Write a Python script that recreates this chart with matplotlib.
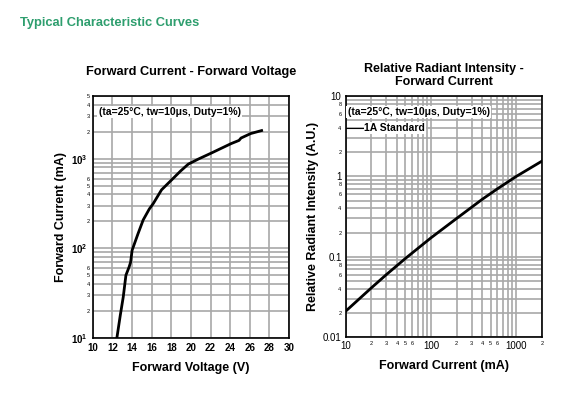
import numpy as np
import matplotlib.pyplot as plt
from matplotlib.ticker import FixedLocator, FuncFormatter

plt.rcParams['font.family'] = ['Liberation Sans', 'DejaVu Sans']
plt.rcParams['mathtext.fontset'] = 'custom'
plt.rcParams['mathtext.rm'] = 'Liberation Sans'
plt.rcParams['mathtext.bf'] = 'Liberation Sans:bold'

# Forward current vs forward voltage
fv_voltage = [12.45, 12.8, 13.1, 13.37, 13.7, 13.85, 14.0, 14.6, 15.13, 15.75, 16.16, 17.0, 18.03,
              18.95, 19.73, 20.75, 22.1, 24.1, 24.9, 25.1, 26.1, 27.2]
fv_current = [10, 18, 28.7, 50, 62, 70, 95, 145, 207, 274, 316, 449, 580,
              730, 870, 990, 1159, 1475, 1600, 1700, 1910, 2060]

# Relative radiant intensity vs forward current
ri_current = [10, 20, 30, 50, 100, 200, 400, 600, 1000, 2000]
ri_intensity = [0.021, 0.041, 0.060, 0.095, 0.172, 0.30, 0.52, 0.70, 1.0, 1.55]

grid_col = '#a8a8a8'


def mantissa(v):
    return int(round(v / 10 ** np.floor(np.log10(v))))


fig = plt.figure(figsize=(5.84, 3.97), dpi=100)
fig.text(0.034, 0.935, 'Typical Characteristic Curves', color='#2e9e6e',
         fontsize=9.3, fontweight='bold')

# ---- left chart
ax1 = fig.add_axes([0.159, 0.149, 0.336, 0.609])
ax1.plot(fv_voltage, fv_current, color='black', lw=2.0, zorder=3)
ax1.set_yscale('log')
ax1.set_xlim(10, 30)
ax1.set_ylim(10, 5000)
ax1.set_xticks(range(10, 31, 2))
ax1.set_xticklabels([str(v) for v in range(10, 31, 2)], fontsize=7, fontweight='bold')
ax1.yaxis.set_major_locator(FixedLocator([10, 100, 1000]))
ax1.yaxis.set_major_formatter(FuncFormatter(lambda v, p: r'$\mathbf{10^{%d}}$' % round(np.log10(v))))
minors = [m * 10 ** d for d in (1, 2, 3) for m in range(2, 10) if m * 10 ** d <= 5000]
ax1.yaxis.set_minor_locator(FixedLocator(minors))
ax1.yaxis.set_minor_formatter(FuncFormatter(lambda v, p: str(mantissa(v)) if mantissa(v) <= 6 else ''))
ax1.tick_params(axis='y', which='major', labelsize=7, length=0, pad=4)
ax1.tick_params(axis='y', which='minor', labelsize=4, length=0, pad=2)
ax1.tick_params(axis='x', length=0, pad=4)
ax1.grid(True, which='both', color=grid_col, lw=1.2)
ax1.set_axisbelow(True)
ax1.set_title('Forward Current - Forward Voltage', fontsize=9.2, fontweight='bold', pad=15)
ax1.set_xlabel('Forward Voltage (V)', fontsize=9, fontweight='bold', labelpad=6)
ax1.set_ylabel('Forward Current (mA)', fontsize=9, fontweight='bold', labelpad=3)
ax1.text(0.03, 0.955, '(ta=25°C, tw=10μs, Duty=1%)', transform=ax1.transAxes,
         fontsize=7.5, fontweight='bold', va='top', ha='left',
         bbox=dict(facecolor='white', edgecolor='none', pad=1))
for s in ax1.spines.values():
    s.set_linewidth(1.2)

# ---- right chart
ax2 = fig.add_axes([0.592, 0.151, 0.336, 0.607])
ax2.plot(ri_current, ri_intensity, color='black', lw=2.0, zorder=3)
ax2.set_xscale('log')
ax2.set_yscale('log')
ax2.set_xlim(10, 2000)
ax2.set_ylim(0.01, 10)
ax2.xaxis.set_major_locator(FixedLocator([10, 100, 1000]))
ax2.xaxis.set_major_formatter(FuncFormatter(lambda v, p: '%d' % v))
xmin = [m * 10 ** d for d in (1, 2, 3) for m in range(2, 10) if m * 10 ** d <= 2000]
ax2.xaxis.set_minor_locator(FixedLocator(xmin))
ax2.xaxis.set_minor_formatter(FuncFormatter(lambda v, p: str(mantissa(v)) if mantissa(v) <= 6 else ''))
ax2.yaxis.set_major_locator(FixedLocator([0.01, 0.1, 1, 10]))
ax2.yaxis.set_major_formatter(FuncFormatter(lambda v, p: '%g' % v))
ymin = [m * 10.0 ** d for d in (-2, -1, 0) for m in range(2, 10)]
ax2.yaxis.set_minor_locator(FixedLocator(ymin))
ax2.yaxis.set_minor_formatter(FuncFormatter(lambda v, p: str(mantissa(v)) if mantissa(v) in (2, 4, 6, 8) else ''))
ax2.tick_params(which='major', labelsize=7, length=0, pad=3)
ax2.tick_params(which='minor', labelsize=4, length=0, pad=3)
ax2.grid(True, which='both', color=grid_col, lw=1.2)
ax2.set_axisbelow(True)
ax2.set_title('Relative Radiant Intensity -\nForward Current', fontsize=9, fontweight='bold',
              pad=8, linespacing=1.1)
ax2.set_xlabel('Forward Current (mA)', fontsize=9, fontweight='bold', labelpad=6)
ax2.set_ylabel('Relative Radiant Intensity (A.U.)', fontsize=9, fontweight='bold', labelpad=3)
ax2.text(0.01, 0.955, '(ta=25°C, tw=10μs, Duty=1%)', transform=ax2.transAxes,
         fontsize=7.5, fontweight='bold', va='top', ha='left',
         bbox=dict(facecolor='white', edgecolor='none', pad=1))
ax2.text(0.095, 0.868, '1A Standard', transform=ax2.transAxes,
         fontsize=7.5, fontweight='bold', va='center', ha='left',
         bbox=dict(facecolor='white', edgecolor='none', pad=0.5))
ax2.plot([0.0, 0.09], [0.868, 0.868], transform=ax2.transAxes, color='black', lw=0.8)
for s in ax2.spines.values():
    s.set_linewidth(1.2)

fig.savefig('out.png', dpi=100)
